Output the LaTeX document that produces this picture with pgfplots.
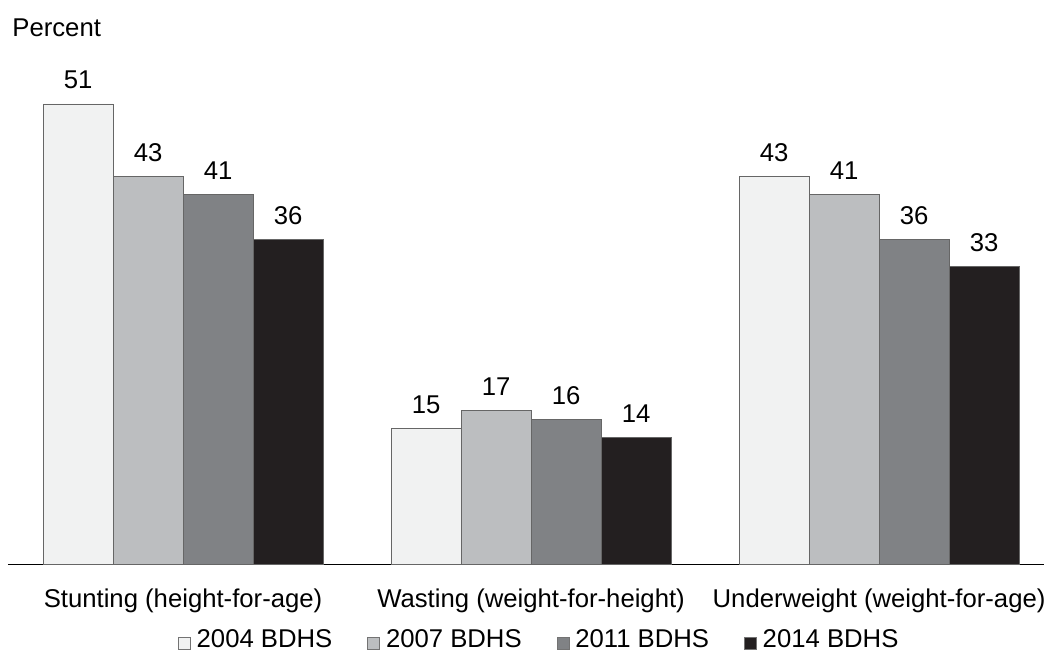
\documentclass[border=0pt]{standalone}
\usepackage{pgfplots}
\pgfplotsset{compat=1.18}
\usepackage{fontspec}
\setmainfont{Liberation Sans}
\definecolor{cA}{HTML}{F1F2F2}
\definecolor{cB}{HTML}{BCBEC0}
\definecolor{cC}{HTML}{808285}
\definecolor{cD}{HTML}{231F20}
\newcommand{\fs}{\fontsize{25.7}{30}\selectfont}
\begin{document}
\begin{tikzpicture}[font=\fs]
    \begin{axis}[
            scale only axis,
            width=1036pt,
            height=541.2pt,
            xmin=-0.503, xmax=2.474,
            ymin=0, ymax=60,
            ybar=0pt,
            bar width=70pt,
            axis x line*=bottom,
            axis y line=none,
            x axis line style={-, line width=0.9pt},
            xtick={0,1,2},
            xticklabels={Stunting (height-for-age),Wasting (weight-for-height),Underweight (weight-for-age)},
            xtick style={draw=none},
            xticklabel style={anchor=base, yshift=-39pt, font=\fs},
            nodes near coords,
            nodes near coords style={anchor=base, yshift=15pt, font=\fs},
            /pgf/number format/assume math mode=true,
            legend columns=4,
            legend style={draw=none, fill=none, inner sep=0pt, font=\fs,
                at={(rel axis cs:0.164,-0.162)}, anchor=south west,
                /tikz/every odd column/.append style={column sep=4pt},
                /tikz/every even column/.append style={column sep=33pt}},
            legend image code/.code={\draw[#1, draw=black!55, line width=0.6pt] (0pt,-10pt) rectangle (12pt,2pt);},
            clip=false,
        ]
        \addplot[fill=cA, draw=black!60, line width=0.7pt] coordinates {(0,51) (1,15) (2,43)};
        \addplot[fill=cB, draw=black!60, line width=0.7pt] coordinates {(0,43) (1,17) (2,41)};
        \addplot[fill=cC, draw=black!60, line width=0.7pt] coordinates {(0,41) (1,16) (2,36)};
        \addplot[fill=cD, draw=black!60, line width=0.7pt] coordinates {(0,36) (1,14) (2,33)};
        \legend{2004 BDHS,2007 BDHS,2011 BDHS,2014 BDHS}
        \node[anchor=base west] at (axis cs:-0.5005,58.5) {Percent};
        \coordinate (bl) at (rel axis cs:0,0);
    \end{axis}
    \pgfresetboundingbox
    \path[use as bounding box] ([xshift=-8pt,yshift=-91pt]bl) rectangle ([xshift=1036pt,yshift=564pt]bl);
\end{tikzpicture}
\end{document}
